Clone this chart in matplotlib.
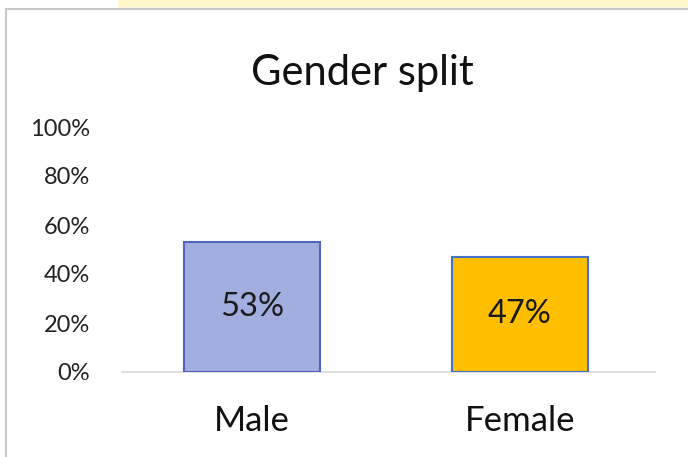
import matplotlib
matplotlib.use("Agg")
import matplotlib.pyplot as plt
from matplotlib.patches import Rectangle
from matplotlib.lines import Line2D
from matplotlib.ticker import PercentFormatter

categories = ["Male", "Female"]
shares = [0.53, 0.47]
bar_colors = ["#a3aee0", "#ffbf00"]
edge_colors = ["#5463bb", "#4472c4"]
y_ticks = [0, 0.2, 0.4, 0.6, 0.8, 1.0]

plt.rcParams["font.family"] = ["Lato", "DejaVu Sans"]

fig = plt.figure(figsize=(6.88, 4.57), dpi=100)
W, H = 688, 457

# Screenshot decoration: yellow strip on top and the grey chart frame
fig.patches.append(Rectangle((118 / W, 1 - 7 / H), 1, 7 / H, transform=fig.transFigure,
                             facecolor="#fff6c9", edgecolor="none"))
fig.lines.append(Line2D([118 / W, 1], [1 - 7.5 / H, 1 - 7.5 / H], transform=fig.transFigure,
                        color="#e3d9a3", lw=1))
fig.lines.append(Line2D([6 / W, 1], [1 - 9 / H, 1 - 9 / H], transform=fig.transFigure,
                        color="#c8c8c8", lw=1.5))
fig.lines.append(Line2D([6 / W, 6 / W], [0, 1 - 9 / H], transform=fig.transFigure,
                        color="#c8c8c8", lw=1.5))

ax = fig.add_axes([122 / W, (H - 372) / H, 533 / W, 245 / H])
x = list(range(len(categories)))
ax.bar(x, shares, width=0.507, color=bar_colors, edgecolor=edge_colors, linewidth=1.5, zorder=3)

for xi, v in zip(x, shares):
    ax.text(xi, v / 2, f"{v:.0%}", ha="center", va="center", fontsize=23.5, color="#1a1a1a", zorder=4)

ax.set_xlim(-0.487, 1.505)
ax.set_ylim(0, 1.0)
ax.set_yticks(y_ticks)
ax.yaxis.set_major_formatter(PercentFormatter(1.0, decimals=0))
ax.set_xticks(x)
ax.set_xticklabels(categories)

for s in ["top", "right", "left"]:
    ax.spines[s].set_visible(False)
ax.spines["bottom"].set_color("#d9d9d9")
ax.spines["bottom"].set_linewidth(1.2)
ax.tick_params(axis="y", length=0, pad=23, labelsize=17, labelcolor="#222222")
ax.tick_params(axis="x", length=0, pad=23.5, labelsize=25, labelcolor="#111111")

fig.text(362 / W, 1 - 85 / H, "Gender split", ha="center", va="baseline", fontsize=30, color="#111111")

fig.savefig("out.png", dpi=100)
